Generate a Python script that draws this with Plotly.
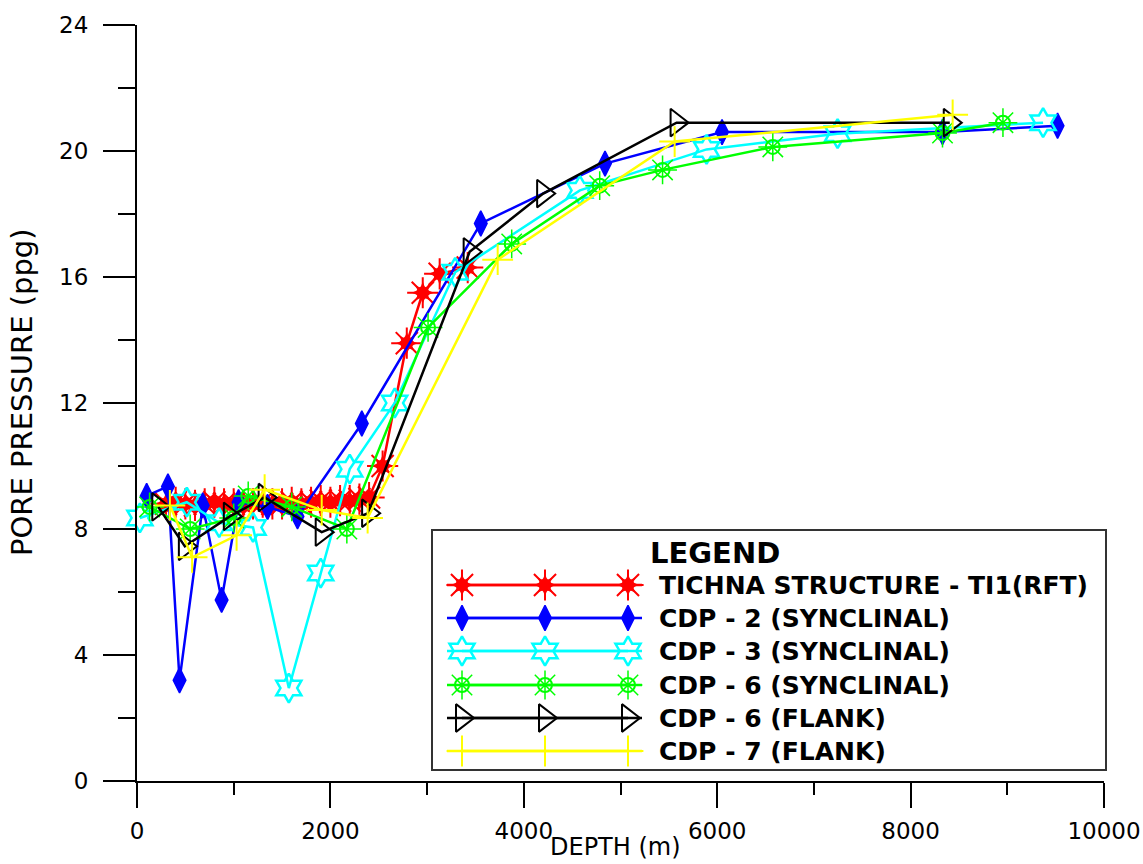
import plotly.graph_objects as go

# ---- data: pore pressure (ppg) versus depth (m) ----
rft_depth = [300, 400, 500, 600, 700, 800, 900, 1000, 1100, 1200, 1300, 1400, 1500,
             1600, 1700, 1800, 1900, 2000, 2100, 2200, 2300, 2400, 2540, 2790, 2955,
             3130, 3420]
rft_pp = [8.8, 8.85, 8.8, 8.75, 8.8, 8.85, 8.8, 8.8, 8.75, 8.8, 8.85, 8.8, 8.8,
          8.85, 8.8, 8.85, 8.9, 8.85, 8.9, 8.9, 8.95, 9.0, 10.0, 13.9, 15.5,
          16.1, 16.3]

cdp2_depth = [100, 320, 440, 680, 875, 1050, 1350, 1660, 2325, 3555, 4840, 6050, 8330, 9520]
cdp2_pp = [9.05, 9.35, 3.2, 8.75, 5.75, 8.85, 8.7, 8.4, 11.35, 17.7, 19.6, 20.6, 20.6, 20.8]

cdp3_depth = [30, 515, 850, 1200, 1570, 1900, 2200, 2665, 3290, 4580, 5890, 7245, 9370]
cdp3_pp = [8.35, 8.85, 8.2, 8.05, 2.95, 6.6, 9.9, 12.0, 16.15, 18.75, 20.05, 20.55, 20.9]

cdp6s_depth = [130, 550, 1000, 1150, 1600, 2170, 3010, 3875, 4785, 5435, 6575, 8330, 8955]
cdp6s_pp = [8.7, 8.0, 8.35, 9.05, 8.7, 8.0, 14.4, 17.05, 18.9, 19.4, 20.13, 20.57, 20.9]

cdp6f_depth = [220, 495, 960, 1320, 1910, 2390, 3440, 4200, 5580, 8405]
cdp6f_pp = [8.7, 7.45, 8.4, 9.0, 7.9, 8.5, 16.8, 18.65, 20.9, 20.9]

cdp7_depth = [340, 570, 1030, 1320, 1910, 2385, 3730, 5560, 8435]
cdp7_pp = [8.75, 7.1, 7.8, 9.25, 8.6, 8.35, 16.55, 20.3, 21.15]

series_names = [
    "TICHNA STRUCTURE - TI1(RFT)",
    "CDP - 2 (SYNCLINAL)",
    "CDP - 3 (SYNCLINAL)",
    "CDP - 6 (SYNCLINAL)",
    "CDP - 6 (FLANK)",
    "CDP - 7 (FLANK)",
]

x_ticks = [0, 2000, 4000, 6000, 8000, 10000]
y_ticks = [0, 4, 8, 12, 16, 20, 24]

RED, BLUE, CYAN, GREEN, BLACK, YELLOW = "#ff0000", "#0000ff", "#00ffff", "#00ff00", "#000000", "#ffff00"

# marker layers per series: list of (symbol, size, line width)
styles = [
    (RED, [("asterisk-open", 26, 2), ("star-diamond", 16, 0), ("star-square", 14, 0)]),
    (BLUE, [("diamond-tall", 18, 1.5)]),
    (CYAN, [("hexagram-open", 22, 2.5)]),
    (GREEN, [("circle-open", 14, 2), ("asterisk-open", 24, 1.5)]),
    (BLACK, [("triangle-right-open", 24, 2)]),
    (YELLOW, [("cross-thin-open", 22, 2)]),
]

datasets = [
    (rft_depth, rft_pp),
    (cdp2_depth, cdp2_pp),
    (cdp3_depth, cdp3_pp),
    (cdp6s_depth, cdp6s_pp),
    (cdp6f_depth, cdp6f_pp),
    (cdp7_depth, cdp7_pp),
]

fig = go.Figure()


def add_series(x, y, color, layers, xa="x", ya="y"):
    # connecting line
    fig.add_trace(go.Scatter(
        x=x, y=y, mode="lines", xaxis=xa, yaxis=ya,
        line=dict(color=color, width=2.5), showlegend=False,
        cliponaxis=False, hoverinfo="skip"))
    for sym, size, lw in layers:
        fig.add_trace(go.Scatter(
            x=x, y=y, mode="markers", xaxis=xa, yaxis=ya,
            marker=dict(symbol=sym, size=size, color=color,
                        line=dict(color=color, width=lw)),
            showlegend=False, cliponaxis=False, hoverinfo="skip"))


for (x, y), (color, layers) in zip(datasets, styles):
    add_series(x, y, color, layers)

# ---- legend panel drawn in paper space ----
L, R, T, B = 137, 1104, 25, 781  # plot area in pixels


def px(xp):
    return (xp - L) / (R - L)


def py(yp):
    return (B - yp) / (B - T)


box = dict(x0=px(432), x1=px(1106), y0=py(770), y1=py(530))
fig.add_shape(type="rect", xref="paper", yref="paper", **box,
              line=dict(color="#333333", width=2), fillcolor="white", layer="below")

fig.add_annotation(xref="paper", yref="paper", x=px(649), y=py(553), text="<b>LEGEND</b>",
                   showarrow=False, xanchor="left", yanchor="middle", borderpad=0,
                   font=dict(family="DejaVu Sans", size=29, color="black"))

row_y = [585, 618, 651, 685, 718, 751]
for name, yrow, (color, layers) in zip(series_names, row_y, styles):
    add_series([px(447), px(642)], [py(yrow)] * 2, color, [], xa="x2", ya="y2")
    add_series([px(462), px(545), px(628)], [py(yrow)] * 3, color, layers, xa="x2", ya="y2")
    fig.add_annotation(xref="paper", yref="paper", x=px(658), y=py(yrow), text=f"<b>{name}</b>",
                       showarrow=False, xanchor="left", yanchor="middle", borderpad=0,
                       align="left", font=dict(family="DejaVu Sans", size=25, color="black"))

# x-axis line continues a little to the left of the origin
fig.add_shape(type="line", xref="paper", yref="paper", x0=px(105), x1=0, y0=0, y1=0,
              line=dict(color="black", width=2))

# axis titles
fig.add_annotation(xref="paper", yref="paper", x=px(615), y=py(862), text="DEPTH (m)",
                   showarrow=False, xanchor="center", yanchor="bottom", borderpad=0,
                   font=dict(family="DejaVu Sans", size=24, color="black"))
fig.add_annotation(xref="paper", yref="paper", x=px(22), y=py(392), text="PORE PRESSURE (ppg)",
                   showarrow=False, xanchor="center", yanchor="middle", textangle=-90,
                   font=dict(family="DejaVu Sans", size=29, color="black"))

axis_font = dict(family="DejaVu Sans", size=23, color="black")
fig.update_layout(
    width=1143, height=864,
    margin=dict(l=L, r=1143 - R, t=T, b=864 - B),
    paper_bgcolor="white", plot_bgcolor="white",
    showlegend=False,
    xaxis=dict(
        range=[0, 10000], tickvals=x_ticks, ticktext=[str(v) for v in x_ticks],
        ticks="outside", ticklen=25, tickwidth=2, tickcolor="black",
        showline=True, linewidth=2, linecolor="black",
        showgrid=False, zeroline=False, tickfont=axis_font, automargin=False,
        ticklabelstandoff=3,
        minor=dict(dtick=1000, ticks="outside", ticklen=12, tickwidth=2, tickcolor="black", showgrid=False),
    ),
    yaxis=dict(
        range=[0, 24], tickvals=y_ticks, ticktext=[str(v) for v in y_ticks],
        ticks="outside", ticklen=32, tickwidth=2, tickcolor="black",
        showline=True, linewidth=2, linecolor="black",
        showgrid=False, zeroline=False, tickfont=axis_font, automargin=False,
        ticklabelstandoff=10,
        minor=dict(dtick=2, ticks="outside", ticklen=17, tickwidth=2, tickcolor="black", showgrid=False),
    ),
    xaxis2=dict(range=[0, 1], overlaying="x", visible=False, fixedrange=True),
    yaxis2=dict(range=[0, 1], overlaying="y", visible=False, fixedrange=True),
)

fig.write_html("out.html")
